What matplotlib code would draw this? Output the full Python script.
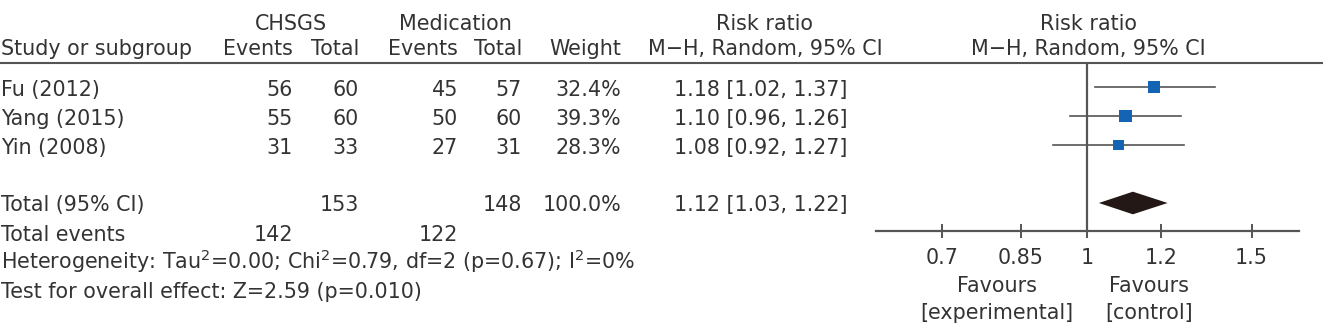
import numpy as np
import matplotlib
matplotlib.use("Agg")
import matplotlib.pyplot as plt
from matplotlib.lines import Line2D

# ---------------- data ----------------
studies = ["Fu (2012)", "Yang (2015)", "Yin (2008)"]
exp_events = [56, 55, 31]
exp_total = [60, 60, 33]
ctl_events = [45, 50, 27]
ctl_total = [57, 60, 31]
weights = [32.4, 39.3, 28.3]
rr = [1.18, 1.10, 1.08]
rr_lo = [1.02, 0.96, 0.92]
rr_hi = [1.37, 1.26, 1.27]

total_exp = 153
total_ctl = 148
total_events_exp = 142
total_events_ctl = 122
total_weight = 100.0
total_rr, total_lo, total_hi = 1.12, 1.03, 1.22

x_ticks = [0.7, 0.85, 1, 1.2, 1.5]
x_tick_labels = ["0.7", "0.85", "1", "1.2", "1.5"]
heterogeneity = "Heterogeneity: Tau$^{2}$=0.00; Chi$^{2}$=0.79, df=2 (p=0.67); I$^{2}$=0%"
overall = "Test for overall effect: Z=2.59 (p=0.010)"

# ---------------- style ----------------
W, H = 1323, 329
TXT = "#333333"
LINE = "#555555"
BLUE = "#1464b4"
DIAM = "#231815"
FS = 14.9
plt.rcParams['font.family'] = ['DejaVu Sans']
plt.rcParams['mathtext.fontset'] = 'dejavusans'

fig = plt.figure(figsize=(W / 100, H / 100), dpi=100)


def fx(px):
    return px / W


def fy(py):
    return 1 - py / H


def row_base(i):
    return 96 + 29 * i


def t(x, y, s, ha="left", **kw):
    fig.text(fx(x), fy(y), s, ha=ha, va="baseline", fontsize=FS, color=TXT, **kw)


# headers
t(291, 30, "CHSGS", ha="center")
t(455, 30, "Medication", ha="center")
t(765, 30, "Risk ratio", ha="center")
t(1088, 30, "Risk ratio", ha="center")
t(1, 55, "Study or subgroup")
t(293, 55, "Events", ha="right")
t(359, 55, "Total", ha="right")
t(458, 55, "Events", ha="right")
t(522, 55, "Total", ha="right")
t(621, 55, "Weight", ha="right")
t(765, 55, "M\u2212H, Random, 95% CI", ha="center")
t(1088, 55, "M\u2212H, Random, 95% CI", ha="center")

fig.add_artist(Line2D([0, 1], [fy(63), fy(63)], transform=fig.transFigure,
                      color=LINE, lw=1.5))

# study rows
for i, name in enumerate(studies):
    y = row_base(i)
    t(1, y, name)
    t(293, y, f"{exp_events[i]}", ha="right")
    t(359, y, f"{exp_total[i]}", ha="right")
    t(458, y, f"{ctl_events[i]}", ha="right")
    t(522, y, f"{ctl_total[i]}", ha="right")
    t(621, y, f"{weights[i]:.1f}%", ha="right")
    t(847, y, f"{rr[i]:.2f} [{rr_lo[i]:.2f}, {rr_hi[i]:.2f}]", ha="right")

# total rows
y = row_base(4) - 1
t(1, y, "Total (95% CI)")
t(359, y, f"{total_exp}", ha="right")
t(522, y, f"{total_ctl}", ha="right")
t(621, y, f"{total_weight:.1f}%", ha="right")
t(847, y, f"{total_rr:.2f} [{total_lo:.2f}, {total_hi:.2f}]", ha="right")
y = row_base(5)
t(1, y, "Total events")
t(293, y, f"{total_events_exp}", ha="right")
t(458, y, f"{total_events_ctl}", ha="right")
t(1, row_base(6) - 1, heterogeneity)
t(1, row_base(7) - 1, overall)

# forest axes
ax = fig.add_axes([fx(876), fy(231), fx(1299) - fx(876), fy(63) - fy(231)])
ax.set_xscale("log")
ax.set_xlim(0.595, 1.686)
ax.set_ylim(4.966, -0.828)
ax.patch.set_alpha(0)
for s in ["top", "left", "right"]:
    ax.spines[s].set_visible(False)
ax.spines["bottom"].set_color(LINE)
ax.spines["bottom"].set_linewidth(1.6)
ax.set_yticks([])
ax.xaxis.set_minor_locator(matplotlib.ticker.NullLocator())
ax.set_xticks(x_ticks)
ax.set_xticklabels(x_tick_labels)
ax.tick_params(axis="x", direction="inout", length=10, width=1.4, color=LINE,
               labelsize=FS, labelcolor=TXT, pad=7)

ax.axvline(1, color=LINE, lw=1.6, zorder=1)

for i in range(len(studies)):
    ax.plot([rr_lo[i], rr_hi[i]], [i, i], color=LINE, lw=1.2, zorder=2)
ax.scatter(rr, range(len(studies)), marker="s", s=[w * 2.2 for w in weights],
           color=BLUE, zorder=3, linewidths=0)

dh = 0.39
ax.fill([total_lo, total_rr, total_hi, total_rr], [4, 4 - dh, 4, 4 + dh],
        color=DIAM, zorder=3, lw=0)

t(997, 292, "Favours", ha="center")
t(997, 319, "[experimental]", ha="center")
t(1149, 292, "Favours", ha="center")
t(1149, 319, "[control]", ha="center")

fig.savefig("out.png", dpi=100, facecolor="white")
